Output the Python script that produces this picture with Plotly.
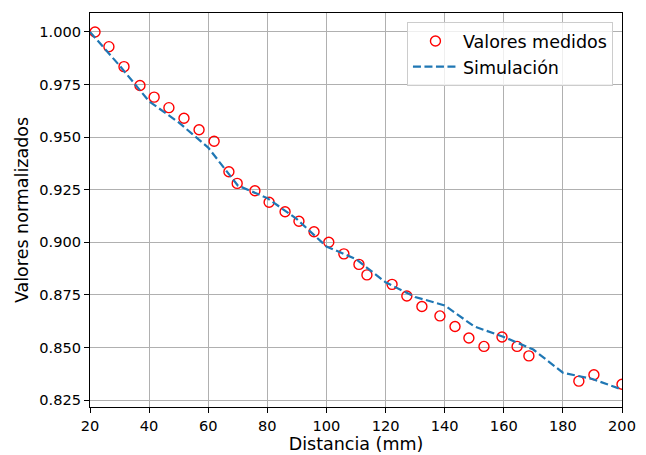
import plotly.graph_objects as go

# Measured values
x_med = [21.7, 26.4, 31.5, 36.9, 41.7, 46.7, 51.8, 56.9, 62.0, 67.0, 69.8, 75.8, 80.6,
         86.0, 90.7, 95.8, 100.8, 105.9, 111.0, 113.7, 122.2, 127.2, 132.3, 138.4,
         143.5, 148.2, 153.3, 159.4, 164.5, 168.5, 185.4, 190.5, 200.0]
y_med = [1.000, 0.993, 0.9835, 0.9745, 0.969, 0.964, 0.959, 0.9535, 0.948, 0.9335, 0.928,
         0.9245, 0.919, 0.9145, 0.910, 0.905, 0.900, 0.8945, 0.8895, 0.8845, 0.880,
         0.8745, 0.8695, 0.865, 0.860, 0.8545, 0.8505, 0.855, 0.8505, 0.846, 0.834,
         0.837, 0.8325]

# Simulation
x_sim = [20, 30, 40, 50, 60, 66, 70, 80, 90, 100, 110, 120, 130, 140, 150, 160, 170,
         180, 190, 200]
y_sim = [1.000, 0.984, 0.967, 0.957, 0.945, 0.934, 0.927, 0.921, 0.911, 0.898, 0.892,
         0.881, 0.874, 0.870, 0.860, 0.855, 0.849, 0.838, 0.835, 0.830]

x_ticks = [20, 40, 60, 80, 100, 120, 140, 160, 180, 200]
y_ticks = [0.825, 0.850, 0.875, 0.900, 0.925, 0.950, 0.975, 1.000]

font = "DejaVu Sans"

fig = go.Figure()
fig.add_trace(go.Scatter(
    x=x_med, y=y_med, mode="markers", name="Valores medidos",
    marker=dict(symbol="circle-open", color="red", size=10, line=dict(width=1.4, color="red")),
))
fig.add_trace(go.Scatter(
    x=x_sim, y=y_sim, mode="lines", name="Simulación",
    line=dict(color="#1f77b4", width=2.2, dash="8px,3.5px"),
))

axis_common = dict(
    showline=True, linecolor="black", linewidth=1, mirror=True,
    ticks="outside", ticklen=5, tickwidth=1, tickcolor="black",
    showgrid=True, gridcolor="#b0b0b0", gridwidth=1, zeroline=False,
    tickfont=dict(family=font, size=14.6, color="black"),
)

fig.update_layout(
    width=638, height=447,
    paper_bgcolor="white", plot_bgcolor="white",
    margin=dict(l=82, r=24, t=4, b=46),
    font=dict(family=font, color="black"),
    xaxis=dict(range=[20, 200], tickvals=x_ticks,
               title=dict(text="Distancia (mm)", font=dict(family=font, size=17.5), standoff=5),
               **axis_common),
    yaxis=dict(range=[0.8217, 1.009], tickvals=y_ticks, tickformat=".3f",
               title=dict(text="Valores normalizados", font=dict(family=font, size=17.5), standoff=6),
               **axis_common),
    legend=dict(x=0.983, y=0.977, xanchor="right", yanchor="top",
                itemwidth=45,
                bgcolor="rgba(255,255,255,0.8)", bordercolor="#cccccc", borderwidth=1,
                font=dict(family=font, size=17.5, color="black")),
    showlegend=True,
)

fig.write_html("out.html")
